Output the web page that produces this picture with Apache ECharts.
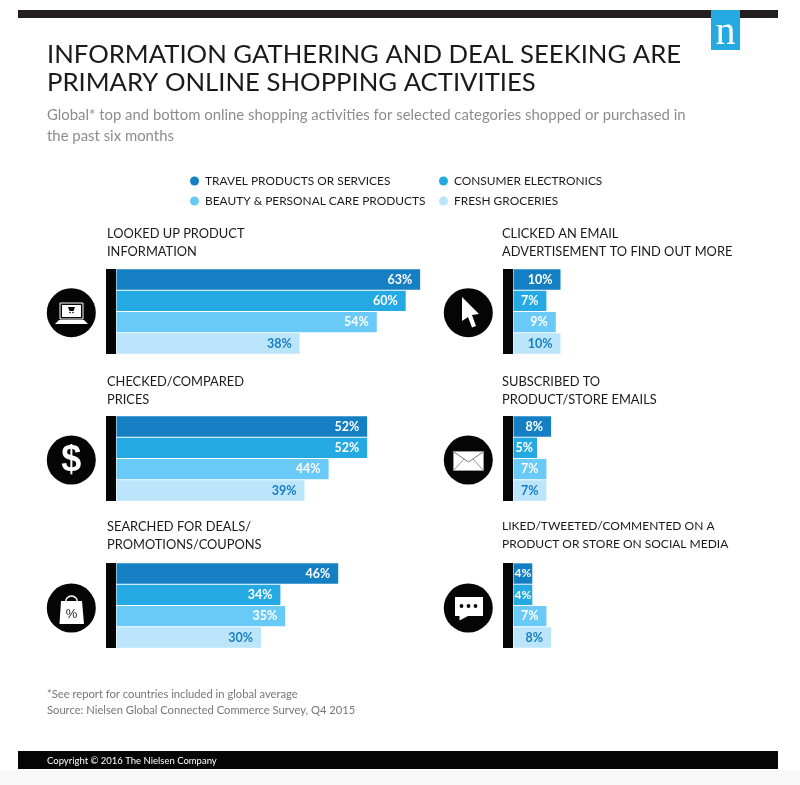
<!DOCTYPE html>
<html>
<head>
<meta charset="utf-8">
<style>html,body{margin:0;padding:0;background:#fff}#chart{width:800px;height:785px}</style>
<script src="https://cdn.jsdelivr.net/npm/echarts@6/dist/echarts.min.js"></script>
</head>
<body>
<div id="chart"></div>
<script>
let categories = ["TRAVEL PRODUCTS OR SERVICES", "CONSUMER ELECTRONICS", "BEAUTY & PERSONAL CARE PRODUCTS", "FRESH GROCERIES"];
let colors = ["#147fc3", "#25a9e2", "#69caf7", "#bae5fb"];
let panelNames = [
  "LOOKED UP PRODUCT\nINFORMATION",
  "CHECKED/COMPARED\nPRICES",
  "SEARCHED FOR DEALS/\nPROMOTIONS/COUPONS",
  "CLICKED AN EMAIL\nADVERTISEMENT TO FIND OUT MORE",
  "SUBSCRIBED TO\nPRODUCT/STORE EMAILS",
  "LIKED/TWEETED/COMMENTED ON A\nPRODUCT OR STORE ON SOCIAL MEDIA"
];
let lookedUp = [63, 60, 54, 38];
let compared = [52, 52, 44, 39];
let deals = [46, 34, 35, 30];
let clicked = [10, 7, 9, 10];
let subscribed = [8, 5, 7, 7];
let social = [4, 4, 7, 8];
let panelValues = [lookedUp, compared, deals, clicked, subscribed, social];

let font = "Lato";
let panelTops = [269, 416, 563];
let nameTops = [225, 373, 518];
let chart = echarts.init(document.getElementById('chart'));

let grids = [], xAxes = [], yAxes = [], series = [], titles = [];
for (let i = 0; i < 6; i++) {
  let left = i < 3;
  let top = panelTops[i % 3];
  grids.push({
    left: left ? 116.5 : 513.5,
    top: top,
    width: left ? 337.4 : 56.4,
    height: 85
  });
  xAxes.push({gridIndex: i, show: false, min: 0, max: left ? 70 : 12});
  yAxes.push({
    gridIndex: i,
    type: 'category',
    inverse: true,
    data: [panelNames[i]],
    offset: 5.5,
    axisLine: {show: true, onZero: false, lineStyle: {color: '#050505', width: 10, cap: 'butt'}},
    axisTick: {show: false},
    axisLabel: {show: false}
  });
  for (let c = 0; c < 4; c++) {
    let v = panelValues[i][c];
    series.push({
      type: 'bar',
      name: categories[c],
      xAxisIndex: i,
      yAxisIndex: i,
      barWidth: 20.4,
      barGap: '4.5%',
      itemStyle: {color: colors[c]},
      animation: false,
      silent: true,
      data: [{
        value: v,
        label: {
          show: true,
          position: 'insideRight',
          distance: v <= 4 ? 1 : (v == 5 ? 4 : 8),
          formatter: '{c}%',
          color: c == 3 ? '#1a7ec2' : '#fff',
          fontFamily: font,
          fontWeight: 'bold',
          fontSize: v <= 4 ? 12 : 12.5
        }
      }]
    });
  }
  titles.push({
    text: panelNames[i],
    left: left ? 107 : 502,
    top: i == 5 ? 517 : nameTops[i % 3],
    padding: 0,
    textStyle: {color: '#1a1a1a', fontFamily: font, fontWeight: 'normal', fontSize: i == 5 ? 12 : 12.85, lineHeight: 18}
  });
}

titles.push({
  text: "INFORMATION GATHERING AND DEAL SEEKING ARE\nPRIMARY ONLINE SHOPPING ACTIVITIES",
  left: 47, top: 41, padding: 0,
  textStyle: {color: '#1a1a1a', fontFamily: font, fontWeight: 'normal', fontSize: 25.7, lineHeight: 28}
});
titles.push({
  text: "Global* top and bottom online shopping activities for selected categories shopped or purchased in\nthe past six months",
  left: 47, top: 105, padding: 0,
  textStyle: {color: '#8c8c8c', fontFamily: font, fontWeight: 'normal', fontSize: 14.9, lineHeight: 21}
});
titles.push({
  text: "*See report for countries included in global average\nSource: Nielsen Global Connected Commerce Survey, Q4 2015",
  left: 47, top: 686, padding: 0,
  textStyle: {color: '#777', fontFamily: font, fontWeight: 'normal', fontSize: 11.2, lineHeight: 16}
});
titles.push({
  text: "Copyright © 2016 The Nielsen Company",
  left: 47, top: 755.5, padding: 0,
  textStyle: {color: '#fff', fontFamily: font, fontWeight: 'normal', fontSize: 9.5}
});
titles.forEach(function(t) { t.z = 10; });

function legendAt(name, left, top) {
  return {
    data: [name],
    left: left,
    top: top,
    padding: 0,
    icon: 'circle',
    itemWidth: 9,
    itemHeight: 9,
    itemGap: 0,
    selectedMode: false,
    textStyle: {color: '#1a1a1a', fontFamily: font, fontSize: 11.9, padding: [0, 0, 0, 1]}
  };
}

// icons sit in a black disc left of each panel
function disc(cx, cy) {
  return {type: 'circle', shape: {cx: cx, cy: cy, r: 24.5}, style: {fill: '#050505'}, z: 5};
}
function poly(points, fill) {
  return {type: 'polygon', shape: {points: points}, style: {fill: fill || '#fff'}, z: 6};
}
function box(x, y, w, h, fill, stroke) {
  return {type: 'rect', shape: {x: x, y: y, width: w, height: h},
    style: {fill: fill, stroke: stroke, lineWidth: stroke ? 1 : 0}, z: 6};
}
function dot(cx, cy, r, fill) {
  return {type: 'circle', shape: {cx: cx, cy: cy, r: r}, style: {fill: fill}, z: 7};
}
function line(points, color) {
  return {type: 'polyline', shape: {points: points}, style: {stroke: color, lineWidth: 1, fill: null}, z: 7};
}

let graphics = [
  box(0, 770, 800, 15, '#f8f8f8'),
  box(18, 10, 760, 8, '#231f20'),
  box(18, 751, 760, 18, '#050505'),
  box(711, 10, 29, 40, '#25a9e2'),
  {type: 'text', x: 725.5, y: 33, z: 7, style: {text: 'n', fill: '#fff', font: '40px "Liberation Serif"', align: 'center', verticalAlign: 'middle'}},

  // laptop
  disc(71.3, 312.7),
  box(60, 303, 23, 16, '#050505', '#fff'),
  box(62, 305, 19, 12, '#fff'),
  poly([[68, 307], [75, 307], [73.5, 311], [69.5, 311]], '#050505'),
  dot(70, 312.5, 0.8, '#050505'),
  dot(73, 312.5, 0.8, '#050505'),
  poly([[59, 320], [84, 320], [88, 324], [55, 324]], '#fff'),

  // dollar
  disc(71.3, 460),
  {type: 'text', x: 71.3, y: 461, z: 7, style: {text: '$', fill: '#fff', font: 'bold 36px "Liberation Sans"', align: 'center', verticalAlign: 'middle'}},

  // shopping bag
  disc(71.3, 608),
  {type: 'circle', shape: {cx: 71.5, cy: 602, r: 6}, style: {fill: null, stroke: '#fff', lineWidth: 1.5}, z: 6},
  poly([[61, 601], [82, 601], [84, 624], [59.5, 624]], '#fff'),
  {type: 'text', x: 71.5, y: 614, z: 7, style: {text: '%', fill: '#222', font: '13px "Liberation Sans"', align: 'center', verticalAlign: 'middle'}},

  // cursor
  disc(468.3, 312.7),
  poly([[462, 297], [479, 314], [472, 315], [476, 326], [472, 327.5], [468, 317], [462, 321]], '#fff'),

  // envelope
  disc(468.3, 460),
  box(453.5, 451.5, 30, 19, '#fff', '#999'),
  line([[454, 452], [468.5, 462], [483, 452]], '#777'),
  line([[454, 470], [464, 459]], '#999'),
  line([[483, 470], [473, 459]], '#999'),

  // chat bubble
  disc(468.3, 608),
  poly([[455, 597], [483, 597], [483, 616], [468, 616], [459.5, 620.5], [459.5, 616], [455, 616]], '#fff'),
  dot(461.5, 606, 1.9, '#050505'),
  dot(468.5, 606, 1.9, '#050505'),
  dot(475.5, 606, 1.9, '#050505')
];

chart.setOption({
  animation: false,
  backgroundColor: '#fff',
  title: titles,
  legend: [
    legendAt(categories[0], 190, 175),
    legendAt(categories[1], 439, 175),
    legendAt(categories[2], 190, 195),
    legendAt(categories[3], 439, 195)
  ],
  grid: grids,
  xAxis: xAxes,
  yAxis: yAxes,
  series: series,
  graphic: graphics
});
</script>
</body>
</html>
